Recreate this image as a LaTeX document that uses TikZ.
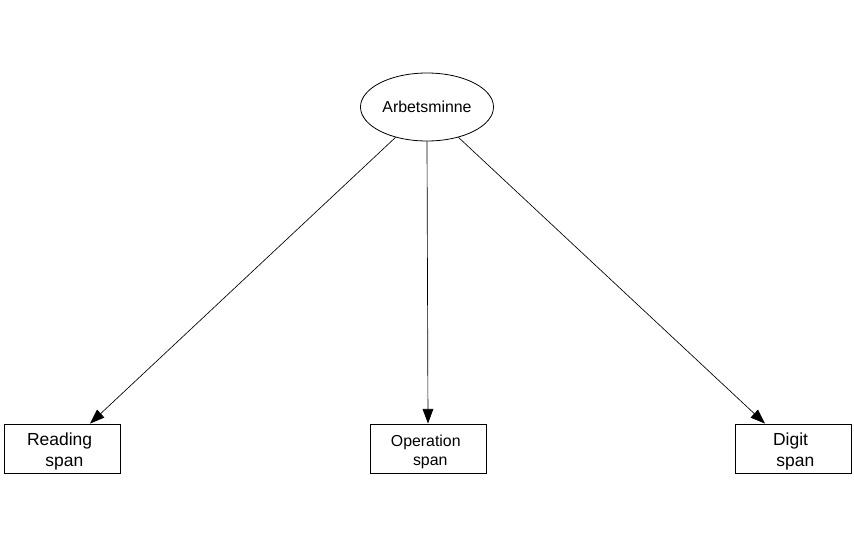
\documentclass[tikz,border=0pt]{standalone}
\usepackage{fontspec}
\setmainfont{Liberation Sans}
\usetikzlibrary{shapes.geometric,arrows.meta}
\begin{document}
\begin{tikzpicture}[x=0.75pt,y=-0.75pt,
  box/.style={draw,line width=0.6pt,minimum width=87pt,minimum height=36.75pt,inner sep=0pt},
  lbl/.style={align=center,inner sep=0pt},
  conn/.style={line width=0.5pt,-{Triangle[length=11pt,width=8pt]}},
  big/.style={font=\fontsize{13.1}{15.75}\selectfont},
  small/.style={font=\fontsize{11.9}{14.3}\selectfont}]
\useasboundingbox (0,0) rectangle (854,554);
\node[draw,ellipse,line width=0.6pt,minimum width=99.75pt,minimum height=51pt,inner sep=0pt,small] (ell) at (427,107) {Arbetsminne};
\node[box] (r) at (62,448.5) {};
\node[box] (o) at (428,448.5) {};
\node[box] (d) at (793,448.5) {};
\node[lbl,big] (rt) at ([yshift=-2.5pt]r.center) {Reading\hspace*{0.278em}\\\hspace*{0.278em}span};
\node[lbl,small] (ot) at ([yshift=-2.5pt]o.center) {Operation\hspace*{0.278em}\\\hspace*{0.278em}span};
\node[lbl,big] (dt) at ([yshift=-2.5pt]d.center) {Digit\hspace*{0.278em}\\\hspace*{0.278em}span};
\draw[conn] (ell.224) -- ([xshift=21pt]r.north);
\draw[conn] (ell.south) -- (o.north);
\draw[conn] (ell.316) -- ([xshift=-21pt]d.north);
\end{tikzpicture}
\end{document}
